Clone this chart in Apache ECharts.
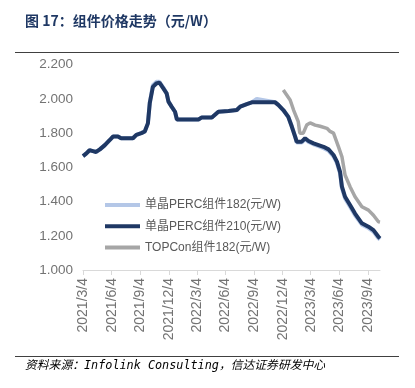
<!DOCTYPE html>
<html><head><meta charset="utf-8">
<script src="https://cdn.jsdelivr.net/npm/echarts@6/dist/echarts.min.js"></script>
<style>html,body{margin:0;padding:0;background:#fff}#c{width:415px;height:388px}</style>
</head><body><div id="c"></div>
<script>
// ---- data ----
const percDates = ['2021-03-04','2021-03-14','2021-03-25','2021-04-05','2021-04-15','2021-04-27','2021-05-13','2021-05-29','2021-06-08','2021-06-24','2021-07-04','2021-08-11','2021-08-22','2021-09-07','2021-09-18','2021-09-28','2021-10-04','2021-10-14','2021-10-25','2021-11-04','2021-11-17','2021-11-27','2021-12-03','2021-12-13','2021-12-24','2021-12-30','2022-03-09','2022-03-20','2022-04-21','2022-05-12','2022-06-13','2022-07-10','2022-07-21','2022-08-11','2022-08-27','2022-09-12','2022-11-10','2022-11-20','2022-12-06','2022-12-22','2023-01-02','2023-01-13','2023-01-18','2023-02-03','2023-02-14','2023-02-25','2023-03-13','2023-03-29','2023-04-14','2023-04-30','2023-05-16','2023-05-27','2023-06-06','2023-06-12','2023-06-22','2023-07-08','2023-07-24','2023-08-15','2023-09-05','2023-09-21','2023-10-07','2023-10-12'];
const perc210 = [1.666,1.68,1.70,1.695,1.69,1.705,1.73,1.76,1.78,1.78,1.77,1.77,1.79,1.80,1.81,1.857,1.975,2.07,2.09,2.095,2.06,2.033,1.984,1.955,1.925,1.88,1.88,1.892,1.892,1.925,1.93,1.935,1.955,1.97,1.98,1.98,1.98,1.965,1.935,1.895,1.84,1.78,1.75,1.75,1.77,1.754,1.74,1.73,1.72,1.705,1.672,1.633,1.574,1.487,1.428,1.38,1.33,1.273,1.253,1.233,1.194,1.185];
const perc182 = [1.666,1.68,1.70,1.695,1.69,1.705,1.73,1.76,1.78,1.78,1.77,1.77,1.79,1.80,1.81,1.857,1.98,2.08,2.10,2.10,2.065,2.033,1.984,1.955,1.925,1.88,1.88,1.892,1.892,1.925,1.93,1.935,1.955,1.97,1.98,2.00,1.98,1.965,1.935,1.895,1.84,1.78,1.745,1.745,1.765,1.748,1.735,1.724,1.712,1.698,1.664,1.625,1.565,1.478,1.418,1.37,1.32,1.265,1.245,1.225,1.186,1.178];
const topconDates = ['2022-12-06','2022-12-17','2022-12-28','2023-01-08','2023-01-23','2023-01-28','2023-02-08','2023-02-19','2023-03-02','2023-03-18','2023-04-03','2023-04-25','2023-05-05','2023-05-16','2023-06-01','2023-06-12','2023-06-22','2023-07-08','2023-07-24','2023-08-15','2023-09-05','2023-09-21','2023-10-07','2023-10-12'];
const topcon = [2.052,2.023,1.994,1.935,1.867,1.80,1.80,1.847,1.86,1.847,1.84,1.828,1.81,1.80,1.72,1.662,1.555,1.487,1.428,1.37,1.35,1.32,1.282,1.28];
const tickDates = ['2021-03-04','2021-06-04','2021-09-04','2021-12-04','2022-03-04','2022-06-04','2022-09-04','2022-12-04','2023-03-04','2023-06-04','2023-09-04'];
const seriesNames = ['单晶PERC组件182(元/W)','单晶PERC组件210(元/W)','TOPCon组件182(元/W)'];
const titleText = '图 17：组件价格走势（元/W）';
const sourceText = '资料来源：Infolink Consulting，信达证券研发中心';

const ts = s => { const p = s.split('-'); return new Date(+p[0], +p[1]-1, +p[2]).getTime(); };
const pairs = (d, v) => d.map((x, i) => [ts(x), v[i]]);
const tickVals = tickDates.map(ts);

const chart = echarts.init(document.getElementById('c'), null, {renderer: 'canvas'});
chart.setOption({
  animation: false,
  backgroundColor: '#fff',
  grid: {left: 83, right: 35, top: 64.7, bottom: 118, containLabel: false},
  xAxis: {
    type: 'value',
    min: ts('2021-03-04'), max: ts('2023-10-12'),
    axisLine: {show: true, lineStyle: {color: '#d9d9d9', width: 1}},
    axisTick: {show: true, customValues: tickVals, length: 5, lineStyle: {color: '#d9d9d9'}},
    splitLine: {show: false},
    axisLabel: {
      customValues: tickVals, rotate: 90, margin: 8, color: '#737373', fontSize: 14,
      fontFamily: 'Liberation Sans, Arial, sans-serif',
      formatter: v => { const d = new Date(v); return d.getFullYear() + '/' + (d.getMonth()+1) + '/' + d.getDate(); }
    }
  },
  yAxis: {
    type: 'value', min: 1, max: 2.2, interval: 0.2,
    axisLine: {show: false}, axisTick: {show: false}, splitLine: {show: false},
    axisLabel: {margin: 10, color: '#737373', fontSize: 13.5, fontFamily: 'Liberation Sans, Arial, sans-serif',
      formatter: v => v.toFixed(3)}
  },
  legend: {
    orient: 'vertical', left: 100, top: 193, itemWidth: 35, itemHeight: 4, itemGap: 7.3, icon: 'rect',
    textStyle: {color: '#595959', fontSize: 12, lineHeight: 14, fontFamily: 'Liberation Sans, Noto Sans CJK SC, sans-serif'},
    data: seriesNames
  },
  graphic: [
    {type: 'text', left: 25, top: 14, style: {text: titleText, fill: '#1f3864', font: 'bold 14px "Noto Sans CJK SC", sans-serif'}},
    {type: 'line', shape: {x1: 15, y1: 52.5, x2: 399, y2: 52.5}, style: {stroke: '#404040', lineWidth: 1}},
    {type: 'line', shape: {x1: 15, y1: 356.5, x2: 399, y2: 356.5}, style: {stroke: '#404040', lineWidth: 1}},
    {type: 'text', left: 25, top: 360, style: {text: sourceText, fill: '#000', font: 'italic 11.8px "DejaVu Sans Mono", "Noto Sans CJK SC", monospace'}}
  ],
  series: [
    {name: seriesNames[0], type: 'line', symbol: 'none', data: pairs(percDates, perc182),
      lineStyle: {color: '#b4c7e7', width: 4}, itemStyle: {color: '#b4c7e7'}, z: 2},
    {name: seriesNames[1], type: 'line', symbol: 'none', data: pairs(percDates, perc210),
      lineStyle: {color: '#1f3864', width: 4}, itemStyle: {color: '#1f3864'}, z: 3},
    {name: seriesNames[2], type: 'line', symbol: 'none', data: pairs(topconDates, topcon),
      lineStyle: {color: '#a6a6a6', width: 3.5}, itemStyle: {color: '#a6a6a6'}, z: 2}
  ]
});
</script></body></html>
